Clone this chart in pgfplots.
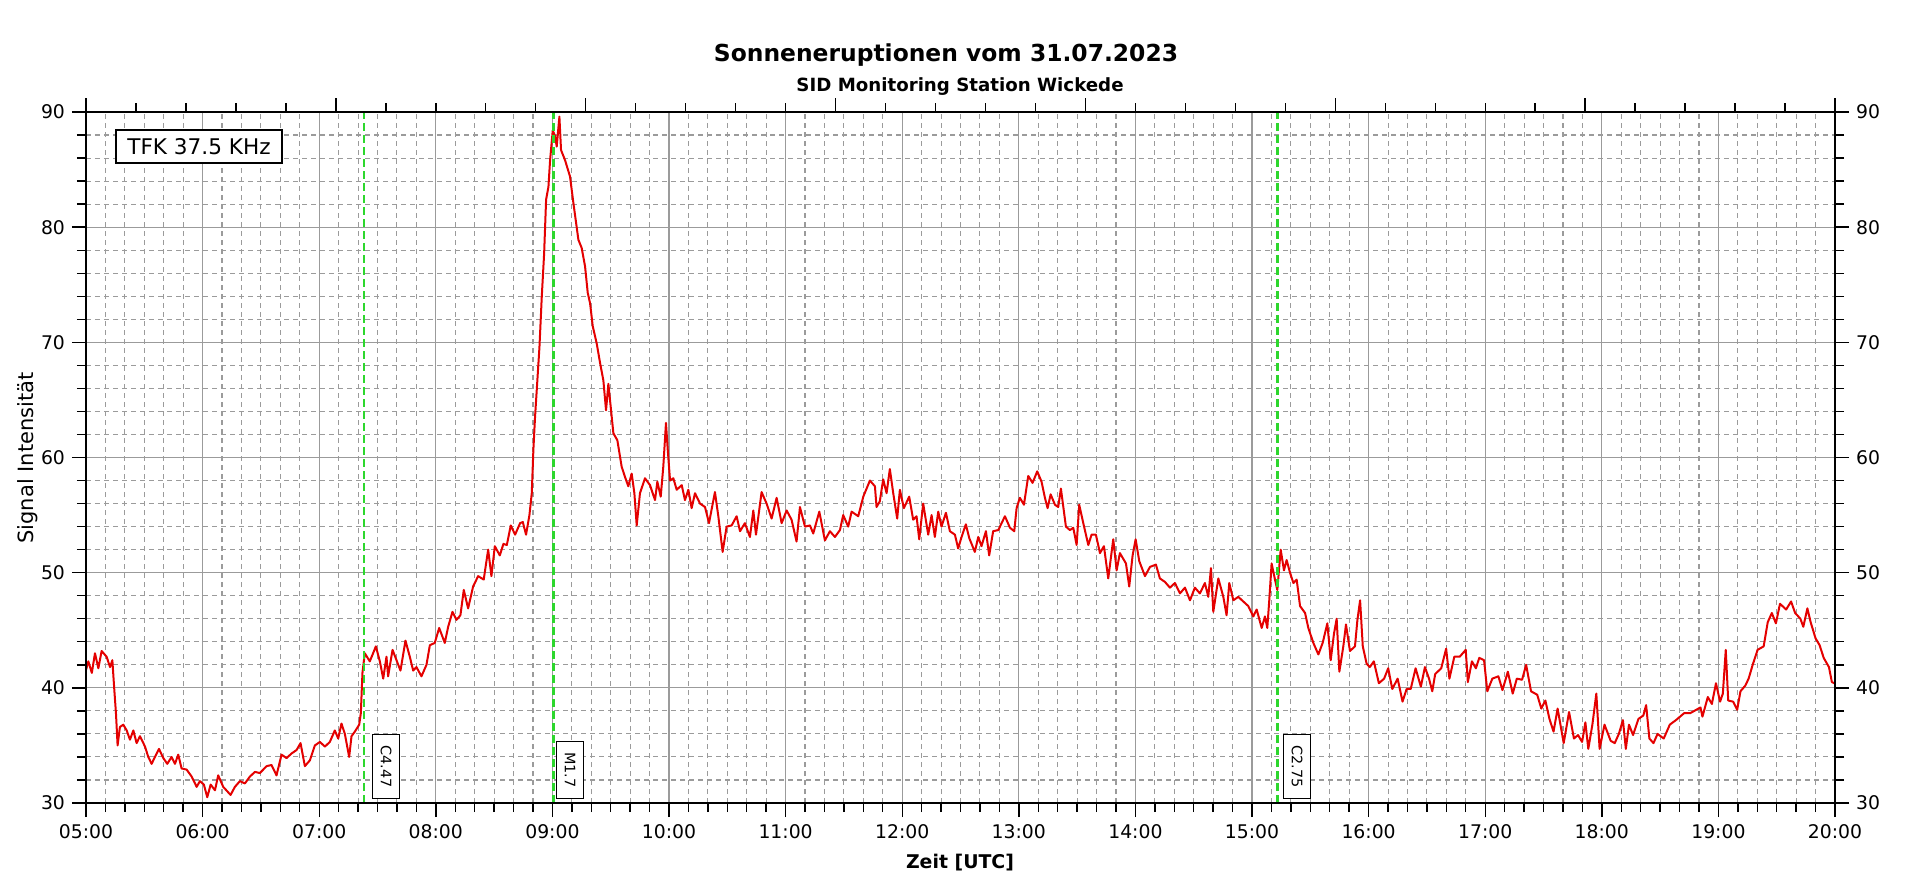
\documentclass[border=0pt]{standalone}
\usepackage{fontspec}
\setmainfont{DejaVu Sans}
\usepackage{pgfplots}
\pgfplotsset{compat=1.18}
\definecolor{sigred}{RGB}{228,0,0}
\definecolor{flgreen}{RGB}{45,215,45}
\definecolor{gridgray}{RGB}{155,155,155}
\newcommand{\fs}[1]{\fontsize{#1}{#1}\selectfont}
\begin{document}
\begin{tikzpicture}[x=1pt,y=1pt]
\path[use as bounding box] (0,0) rectangle (960,439.5);
\begin{axis}[at={(43pt,38pt)}, anchor=south west, scale only axis,
 width=874.5pt, height=345.5pt,
 xmin=5, xmax=20, ymin=30, ymax=90,
 xtick={5,...,20},
 xticklabels={05:00,06:00,07:00,08:00,09:00,10:00,11:00,12:00,13:00,14:00,15:00,16:00,17:00,18:00,19:00,20:00},
 minor x tick num=5,
 ytick={30,40,...,90}, yticklabels={30,40,50,60,70,80,90},
 minor y tick num=4,
 xtick pos=left, ytick pos=left, tick align=outside,
 major tick length=7pt, minor tick length=4.5pt,
 tick style={black, line width=0.7pt},
 grid=both,
 major grid style={gridgray, line width=0.65pt},
 minor grid style={gridgray, line width=0.55pt, dash pattern=on 2.5pt off 2pt},
 axis line style={black, line width=0.8pt},
 ticklabel style={font=\fs{9.4pt}},
 /pgf/number format/assume math mode=true,
]
\addplot[sigred, line width=1pt, line join=round] coordinates {
(5.000,41.55)(5.020,42.3)(5.050,41.3)(5.077,43.0)(5.106,41.7)(5.134,43.2)(5.177,42.7)(5.206,41.8)(5.226,42.4)(5.243,39.8)
(5.257,37.8)(5.271,35.0)(5.291,36.6)(5.320,36.8)(5.349,36.3)(5.377,35.5)(5.406,36.3)(5.434,35.2)(5.463,35.8)(5.506,34.9)
(5.534,34.0)(5.563,33.4)(5.591,34.0)(5.626,34.7)(5.663,33.9)(5.697,33.4)(5.734,34.0)(5.763,33.4)(5.791,34.2)(5.820,33.0)
(5.863,32.9)(5.906,32.3)(5.949,31.4)(5.977,31.9)(6.011,31.6)(6.040,30.5)(6.069,31.6)(6.106,31.1)(6.134,32.4)(6.177,31.4)
(6.240,30.7)(6.277,31.4)(6.320,31.9)(6.363,31.7)(6.406,32.3)(6.449,32.7)(6.491,32.6)(6.549,33.2)(6.591,33.3)(6.634,32.4)
(6.677,34.2)(6.720,33.9)(6.763,34.3)(6.806,34.6)(6.840,35.2)(6.877,33.2)(6.920,33.7)(6.963,35.0)(7.006,35.3)(7.049,34.9)
(7.091,35.3)(7.134,36.3)(7.163,35.6)(7.191,36.9)(7.220,36.0)(7.257,34.0)(7.277,35.8)(7.306,36.2)(7.343,36.8)(7.357,37.8)
(7.371,41.3)(7.391,43.0)(7.434,42.3)(7.486,43.6)(7.520,42.3)(7.549,40.8)(7.577,42.7)(7.591,41.0)(7.629,43.3)(7.663,42.4)
(7.697,41.5)(7.740,44.1)(7.777,42.7)(7.806,41.5)(7.834,41.8)(7.877,41.0)(7.920,42.0)(7.949,43.7)(7.991,43.9)(8.029,45.2)
(8.077,43.9)(8.106,45.3)(8.143,46.6)(8.177,45.9)(8.211,46.3)(8.240,48.5)(8.277,46.9)(8.320,48.8)(8.363,49.7)(8.411,49.4)
(8.449,52.0)(8.477,49.7)(8.506,52.3)(8.549,51.5)
(8.580,52.5)(8.609,52.4)(8.643,54.1)(8.680,53.3)(8.723,54.3)(8.746,54.4)(8.774,53.3)(8.803,55.0)(8.823,56.9)(8.837,60.7)
(8.851,63.5)(8.866,65.9)(8.889,69.6)(8.909,74.0)(8.929,77.7)(8.946,82.4)(8.966,83.5)(8.980,85.8)(9.003,88.4)(9.023,87.9)
(9.037,87.0)(9.060,89.6)(9.074,86.7)(9.109,85.8)(9.151,84.4)(9.180,82.1)(9.223,78.9)(9.251,78.2)(9.280,76.6)(9.303,74.3)
(9.323,73.4)(9.346,71.4)(9.380,69.9)(9.409,68.2)(9.437,66.7)(9.460,64.1)(9.480,66.4)(9.500,64.4)(9.523,62.1)(9.557,61.5)
(9.594,59.2)(9.623,58.3)(9.651,57.5)(9.680,58.6)(9.703,56.9)(9.723,54.1)(9.751,56.9)(9.794,58.2)(9.837,57.6)(9.880,56.3)
(9.900,57.9)(9.929,56.6)(9.951,59.2)(9.974,63.0)(9.989,60.7)(10.009,58.0)(10.037,58.2)(10.066,57.2)(10.109,57.6)(10.137,56.3)
(10.166,57.2)(10.194,55.6)(10.223,56.9)(10.266,56.0)(10.309,55.7)(10.343,54.3)(10.394,57.0)(10.423,54.9)(10.460,51.8)(10.494,54.0)
(10.537,54.1)(10.580,54.9)(10.609,53.6)(10.651,54.3)(10.694,53.1)(10.723,55.4)(10.746,53.3)(10.794,57.0)(10.837,56.0)(10.880,54.7)
(10.923,56.5)(10.966,54.3)(11.009,55.4)(11.051,54.6)(11.094,52.7)(11.123,55.7)(11.166,54.0)(11.209,54.1)(11.237,53.4)(11.289,55.3)
(11.337,52.8)(11.380,53.6)(11.423,53.1)(11.466,53.7)(11.494,55.0)(11.537,54.0)(11.566,55.3)(11.623,54.9)(11.666,56.6)(11.723,58.0)
(11.766,57.5)(11.780,55.7)
(11.808,56.2)(11.837,58.1)(11.866,56.9)(11.894,59.0)(11.923,56.9)(11.957,54.7)(11.980,57.2)(12.014,55.6)(12.060,56.6)(12.094,54.6)
(12.123,54.9)(12.146,52.9)(12.180,56.0)(12.223,53.3)(12.252,55.0)(12.280,53.1)(12.309,55.3)(12.337,54.0)(12.375,55.2)(12.409,53.6)
(12.452,53.3)(12.480,52.1)(12.509,53.1)(12.546,54.2)(12.575,53.0)(12.623,51.8)(12.652,53.1)(12.680,52.3)(12.718,53.6)(12.746,51.5)
(12.780,53.6)(12.824,53.7)(12.881,54.9)(12.924,53.9)(12.961,53.6)(12.981,55.6)(13.009,56.5)(13.044,55.9)(13.081,58.4)(13.118,57.8)
(13.158,58.8)(13.195,57.9)(13.224,56.5)(13.247,55.6)(13.273,56.8)(13.310,55.9)(13.338,55.7)(13.361,57.3)(13.404,54.0)(13.438,53.7)
(13.467,53.9)(13.496,52.4)(13.518,55.9)(13.553,54.3)(13.596,52.4)(13.624,53.3)(13.661,53.3)(13.696,51.7)(13.730,52.3)(13.767,49.5)
(13.810,52.9)(13.839,50.2)(13.867,51.7)(13.919,50.8)(13.947,48.8)(13.976,51.5)(14.002,52.9)(14.033,51.0)(14.082,49.7)(14.125,50.5)
(14.176,50.7)(14.210,49.5)(14.253,49.2)(14.296,48.7)(14.339,49.1)(14.382,48.2)(14.425,48.7)(14.468,47.6)(14.510,48.7)(14.553,48.2)
(14.596,49.1)(14.625,47.9)(14.648,50.4)(14.668,46.6)(14.711,49.5)(14.754,47.9)(14.782,46.3)(14.805,49.1)(14.840,47.6)(14.882,47.9)
(14.925,47.5)(14.968,47.1)(15.011,46.2)(15.040,46.8)(15.083,45.2)(15.111,46.2)(15.131,45.2)(15.148,47.6)(15.168,50.8)(15.197,49.4)
(15.217,48.5)(15.246,52.0)(15.274,50.2)(15.297,51.1)(15.326,50.0)(15.355,49.1)(15.383,49.4)(15.412,47.1)(15.455,46.5)(15.483,45.2)
(15.526,43.9)(15.569,42.9)(15.606,43.9)(15.646,45.6)(15.675,42.4)(15.703,44.7)(15.726,46.0)(15.749,41.4)(15.783,43.6)(15.806,45.5)
(15.840,43.2)(15.883,43.6)(15.904,45.9)(15.927,47.6)(15.950,43.6)(15.983,42.1)
(16.010,41.8)(16.045,42.3)(16.088,40.4)(16.133,40.8)(16.168,41.7)(16.203,39.9)(16.249,40.8)(16.291,38.8)(16.326,39.9)(16.361,39.9)
(16.403,41.7)(16.448,40.1)(16.483,41.8)(16.518,40.8)(16.546,39.7)(16.571,41.2)(16.623,41.7)(16.665,43.4)(16.693,40.8)(16.735,42.7)
(16.781,42.7)(16.833,43.3)(16.851,40.5)(16.886,42.3)(16.920,41.7)(16.949,42.6)(16.990,42.4)(17.018,39.7)(17.061,40.8)(17.113,41.0)
(17.148,39.8)(17.194,41.4)(17.236,39.5)(17.271,40.8)(17.316,40.7)(17.351,42.0)(17.393,39.7)(17.446,39.4)(17.481,38.2)(17.516,38.9)
(17.551,37.3)(17.586,36.2)(17.621,38.2)(17.673,35.2)(17.719,37.9)(17.761,35.6)(17.796,35.9)(17.831,35.3)(17.859,37.0)(17.884,34.7)
(17.919,36.8)(17.953,39.5)(17.981,34.7)(18.023,36.8)(18.076,35.4)(18.111,35.2)(18.146,36.0)(18.181,37.2)(18.206,34.7)(18.233,36.8)
(18.268,35.9)(18.314,37.3)(18.356,37.6)(18.380,38.5)(18.408,35.6)(18.443,35.2)(18.478,36.0)(18.531,35.6)(18.583,36.8)(18.636,37.2)
(18.706,37.8)(18.758,37.8)(18.811,38.1)(18.846,38.3)(18.863,37.5)(18.909,39.2)(18.944,38.6)(18.979,40.4)(19.014,38.8)(19.038,39.5)
(19.063,43.3)(19.084,38.9)(19.126,38.8)(19.161,38.1)(19.189,39.7)(19.231,40.2)(19.259,40.8)(19.294,42.0)(19.336,43.3)(19.388,43.6)
(19.423,45.7)(19.458,46.5)(19.493,45.6)(19.528,47.3)(19.581,46.8)(19.623,47.5)(19.658,46.5)(19.703,46.0)(19.728,45.3)(19.763,46.9)
(19.791,45.7)(19.833,44.3)(19.868,43.7)(19.903,42.6)(19.948,41.8)(19.973,40.5)(19.994,40.4)
};
\addplot[flgreen, line width=1.2pt, dash pattern=on 4pt off 2pt] coordinates {(7.386,30) (7.386,90)};
\addplot[flgreen, line width=1.2pt, dash pattern=on 4pt off 2pt] coordinates {(9.010,30) (9.010,90)};
\addplot[flgreen, line width=1.2pt, dash pattern=on 4pt off 2pt] coordinates {(15.217,30) (15.217,90)};
\node[draw, fill=white, rotate=-90, anchor=south east, font=\fs{7.2pt}, inner xsep=5.25pt, inner ysep=0pt, minimum height=13.5pt, line width=0.5pt] at ([yshift=2.25pt]axis cs:7.453,30) {C4.47};
\node[draw, fill=white, rotate=-90, anchor=south east, font=\fs{7.2pt}, inner xsep=5.25pt, inner ysep=0pt, minimum height=13.5pt, line width=0.5pt] at ([yshift=2.25pt]axis cs:9.031,30) {M1.7};
\node[draw, fill=white, rotate=-90, anchor=south east, font=\fs{7.2pt}, inner xsep=5.25pt, inner ysep=0pt, minimum height=13.5pt, line width=0.5pt] at ([yshift=2.25pt]axis cs:15.266,30) {C2.75};
\end{axis}
\begin{axis}[at={(43pt,38pt)}, anchor=south west, scale only axis,
 width=874.5pt, height=345.5pt,
 xmin=0, xmax=35, ymin=30, ymax=90,
 xtick={0,5,...,35}, xticklabels={}, minor x tick num=4,
 ytick={30,40,...,90}, yticklabels={30,40,50,60,70,80,90},
 minor y tick num=4,
 xtick pos=right, ytick pos=right, yticklabel pos=right, tick align=outside,
 major tick length=7pt, minor tick length=4.5pt,
 tick style={black, line width=0.7pt},
 axis line style={black, line width=0.8pt},
 ticklabel style={font=\fs{9.4pt}},
 /pgf/number format/assume math mode=true,
]
\addplot[draw=none] coordinates {(0,30)};
\end{axis}
\node[anchor=base, font=\bfseries\fs{11.7pt}] at (473,408.5) {Sonneneruptionen vom 31.07.2023};
\node[anchor=base, font=\bfseries\fs{9.1pt}] at (480,393.5) {SID Monitoring Station Wickede};
\node[anchor=base, font=\bfseries\fs{9.45pt}] at (480,5.5) {Zeit [UTC]};
\node[rotate=90, anchor=base, font=\fs{10.5pt}] at (16.5,210.5) {Signal Intensität};
\node[draw, fill=white, font=\fs{10.8pt}, minimum width=83pt, minimum height=16.5pt, inner sep=0pt, line width=0.6pt] at (99.5,366.25) {TFK 37.5 KHz};
\end{tikzpicture}
\end{document}
